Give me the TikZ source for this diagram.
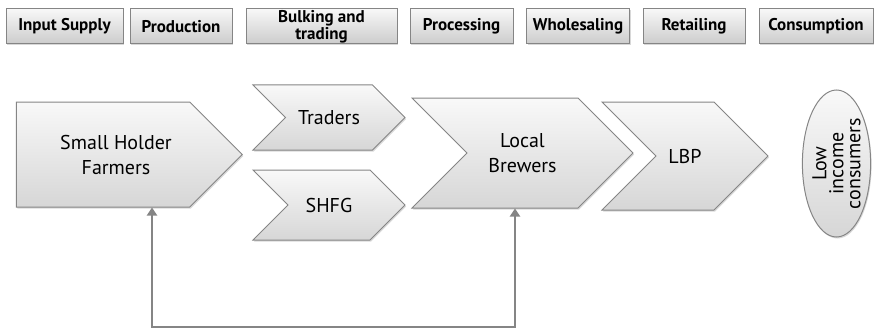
\documentclass[tikz,border=0pt]{standalone}
\usepackage{fontspec}
\setmainfont{PT Sans}
\usepackage{tikz}
\usetikzlibrary{positioning, shapes.geometric, shapes.symbols, shadows, arrows.meta}
\definecolor{rim}{HTML}{858585}
\definecolor{linkgray}{HTML}{858585}
\tikzset{
	every text node part/.style= {
		align=center
	},
	stage/.style= {
		rectangle,
		draw=rim,
		line width=1pt,
		top color=gray!6,
		bottom color=gray!40,
		drop shadow={shadow xshift=1pt, shadow yshift=-1.5pt, fill=gray!60},
		font=\bfseries\fontsize{17}{15}\selectfont,
		minimum height=35pt,
		inner sep=0pt
	},
	actor/.style= {
		signal,
		signal to=east,
		signal pointer angle=90,
		draw=rim,
		line width=1pt,
		top color=gray!5,
		bottom color=gray!32,
		drop shadow={shadow xshift=1pt, shadow yshift=-1.5pt, fill=gray!60},
		font=\fontsize{20}{25}\selectfont,
		inner sep=0pt
	},
	feedback/.style= {
		draw=linkgray,
		line width=2.5pt,
		{Triangle[length=8pt,width=10pt]}-{Triangle[length=8pt,width=10pt]}
	}
}

\begin{document}
\begin{tikzpicture}[x=1pt, y=-1pt]
		\useasboundingbox (0,0) rectangle (881,329);
		
		\foreach \name/\cx/\w/\label in {input/64.5/117/Input Supply, prod/181/102/Production, bulk/321.5/151/{Bulking and\\trading}, proc/461.5/103/Processing, whole/578/103/Wholesaling, retail/694/102/Retailing, cons/816/114/Consumption}
		{
			\node (\name)[stage, minimum width=\w pt] at (\cx,26.5) {\label};
		}
		
		% text pushed a little toward the point
		\node (farmers)[actor, minimum width=226pt, minimum height=105pt] at (103,154.5) {\hspace*{26pt}Small Holder\\\hspace*{26pt}Farmers};
		\node (traders)[actor, signal from=west, minimum width=152pt, minimum height=65pt] at (329,117.5) {Traders};
		\node (shfg)[actor, signal from=west, minimum width=152pt, minimum height=70pt] at (329,205) {SHFG};
		\node (brewers)[actor, signal from=west, minimum width=221pt, minimum height=110pt] at (522.5,153) {Local\\Brewers};
		\node (lbp)[actor, signal from=west, minimum width=166pt, minimum height=108pt] at (685,156) {LBP};
		\node (consumers)[ellipse, draw=rim, line width=1pt, top color=gray!5, bottom color=gray!32,
			drop shadow={shadow xshift=1pt, shadow yshift=-1.5pt, fill=gray!60},
			font=\fontsize{20}{17}\selectfont, inner sep=0pt,
			rotate=90, minimum width=147pt, minimum height=63pt] at (836.5,163.5) {Low\\income\\consumers};
		
		\coordinate (loopL) at (152,327);
		\coordinate (loopR) at (515,327);
		\draw[feedback] (loopL |- farmers.south) -- (loopL) -- (loopR) -- (loopR |- brewers.south);
	\end{tikzpicture}
\end{document}
